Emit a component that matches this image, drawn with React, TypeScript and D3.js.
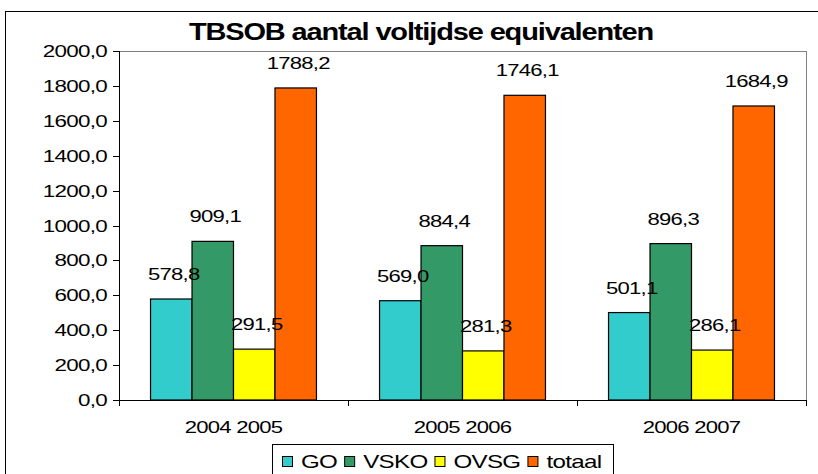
import React, { useEffect, useRef } from "react";
import * as d3 from "d3";

// schooljaren en reeksen
const years: string[] = ["2004 2005", "2005 2006", "2006 2007"];
const seriesNames: string[] = ["GO", "VSKO", "OVSG", "totaal"];
const seriesColors: string[] = ["#33CCCC", "#339966", "#FFFF00", "#FF6600"];
const goValues: number[] = [578.8, 569.0, 501.1];
const vskoValues: number[] = [909.1, 884.4, 896.3];
const ovsgValues: number[] = [291.5, 281.3, 286.1];
const totaalValues: number[] = [1788.2, 1746.1, 1684.9];
const yTicks: number[] = [0, 200, 400, 600, 800, 1000, 1200, 1400, 1600, 1800, 2000];
const chartTitle = "TBSOB aantal voltijdse equivalenten";

const W = 818;
const H = 474;
const FONT = "Arial, 'Liberation Sans', sans-serif";

const fmt = (v: number) => v.toFixed(1).replace(".", ",");

export default function App() {
    const ref = useRef<SVGSVGElement>(null);

    useEffect(() => {
        const svg = d3.select(ref.current);
        svg.selectAll("*").remove();

        const values = [goValues, vskoValues, ovsgValues, totaalValues];
        const plot = { left: 119, right: 806, top: 51, bottom: 400 };

        // outer chart frame (runs off the picture right and bottom)
        svg.append("rect")
            .attr("x", 5.5)
            .attr("y", 11.5)
            .attr("width", 830)
            .attr("height", 480)
            .attr("fill", "#fff")
            .attr("stroke", "#000");

        const x0 = d3.scaleBand().domain(years).range([plot.left, plot.right]).padding(0);
        const x1 = d3
            .scaleBand()
            .domain(seriesNames)
            .range([0, x0.bandwidth()])
            .paddingInner(0)
            .paddingOuter(0.76);
        const y = d3.scaleLinear().domain([0, 2000]).range([plot.bottom, plot.top]);

        // plot area border
        svg.append("rect")
            .attr("x", plot.left + 0.5)
            .attr("y", plot.top + 0.5)
            .attr("width", plot.right - plot.left)
            .attr("height", plot.bottom - plot.top)
            .attr("fill", "none")
            .attr("stroke", "#808080");

        // title
        svg.append("text")
            .attr("transform", `translate(421,40) scale(1.26,1)`)
            .attr("text-anchor", "middle")
            .attr("font-family", FONT)
            .attr("font-weight", "bold")
            .attr("font-size", 23)
            .attr("letter-spacing", -0.9)
            .text(chartTitle);

        // bars
        seriesNames.forEach((name, si) => {
            svg.append("g")
                .selectAll("rect")
                .data(values[si])
                .enter()
                .append("rect")
                .attr("x", (d, i) => x0(years[i])! + x1(name)!)
                .attr("y", d => y(d))
                .attr("width", x1.bandwidth())
                .attr("height", d => y(0) - y(d))
                .attr("fill", seriesColors[si])
                .attr("stroke", "#000")
                .attr("stroke-width", 1.2);
        });

        // value labels, on top of all bars
        seriesNames.forEach((name, si) => {
            svg.append("g")
                .selectAll("text")
                .data(values[si])
                .enter()
                .append("text")
                .attr("transform", (d, i) => {
                    const cx = x0(years[i])! + x1(name)! + x1.bandwidth() / 2 + 2.5;
                    return `translate(${cx},${y(d) - 19}) scale(1.3,1)`;
                })
                .attr("text-anchor", "middle")
                .attr("font-family", FONT)
                .attr("font-size", 17)
                .attr("letter-spacing", -0.6)
                .text(d => fmt(d));
        });

        // y axis
        const yAxis = svg.append("g");
        yAxis.append("line")
            .attr("x1", plot.left + 0.5)
            .attr("x2", plot.left + 0.5)
            .attr("y1", plot.top)
            .attr("y2", plot.bottom)
            .attr("stroke", "#000");
        yTicks.forEach(t => {
            yAxis.append("line")
                .attr("x1", plot.left - 6)
                .attr("x2", plot.left)
                .attr("y1", Math.round(y(t)) + 0.5)
                .attr("y2", Math.round(y(t)) + 0.5)
                .attr("stroke", "#000");
            yAxis.append("text")
                .attr("transform", `translate(107,${y(t) + 6}) scale(1.4,1)`)
                .attr("text-anchor", "end")
                .attr("font-family", FONT)
                .attr("font-size", 16)
                .attr("letter-spacing", -0.5)
                .text(fmt(t));
        });

        // x axis
        const xAxis = svg.append("g");
        xAxis.append("line")
            .attr("x1", plot.left)
            .attr("x2", plot.right)
            .attr("y1", plot.bottom + 0.5)
            .attr("y2", plot.bottom + 0.5)
            .attr("stroke", "#000");
        [...years.map(yr => x0(yr)!), plot.right].forEach(px => {
            xAxis.append("line")
                .attr("x1", Math.round(px) + 0.5)
                .attr("x2", Math.round(px) + 0.5)
                .attr("y1", plot.bottom)
                .attr("y2", plot.bottom + 6)
                .attr("stroke", "#000");
        });
        years.forEach(yr => {
            xAxis.append("text")
                .attr("transform", `translate(${x0(yr)! + x0.bandwidth() / 2},433) scale(1.3,1)`)
                .attr("text-anchor", "middle")
                .attr("font-family", FONT)
                .attr("font-size", 17)
                .attr("letter-spacing", -0.6)
                .text(yr);
        });

        // legend
        const legend = svg.append("g");
        legend.append("rect")
            .attr("x", 272.5)
            .attr("y", 444.5)
            .attr("width", 341)
            .attr("height", 60)
            .attr("fill", "#fff")
            .attr("stroke", "#000");
        let lx = 282;
        seriesNames.forEach((name, si) => {
            legend.append("rect")
                .attr("x", lx + 0.5)
                .attr("y", 456.5)
                .attr("width", 10)
                .attr("height", 10)
                .attr("fill", seriesColors[si])
                .attr("stroke", "#000");
            const txt = legend.append("text")
                .attr("transform", `translate(${lx + 19},468) scale(1.34,1)`)
                .attr("font-family", FONT)
                .attr("font-size", 18)
                .attr("letter-spacing", -0.5)
                .text(name);
            const tw = (txt.node() as SVGTextElement).getComputedTextLength() * 1.34;
            lx += 19 + tw + 7;
        });
    }, []);

    return (
        <svg
            ref={ref}
            width={W}
            height={H}
            style={{ position: "absolute", left: 0, top: 0, display: "block", background: "#fff" }}
        />
    );
}
